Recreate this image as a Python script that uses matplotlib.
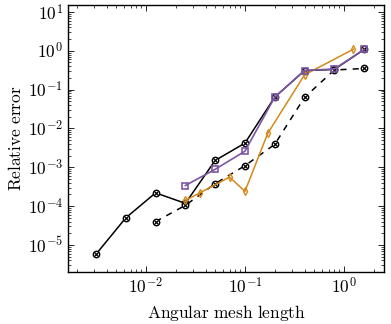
import matplotlib
matplotlib.use('Agg')
import matplotlib.pyplot as plt

plt.rcParams['mathtext.fontset'] = 'cm'
plt.rcParams['font.family'] = 'serif'
plt.rcParams['font.serif'] = ['DejaVu Serif']

PURPLE = '#7d56a3'
ORANGE = '#d4891c'

# black solid, circles with a cross
h_solid = [0.003125, 0.00625, 0.0125, 0.025, 0.05, 0.1, 0.2, 0.4, 0.8, 1.6]
err_solid = [5.8e-6, 5.0e-5, 2.2e-4, 1.18e-4, 1.5e-3, 4.2e-3, 0.064, 0.31, 0.33, 1.08]

# black dashed, circles with a cross
h_dash = [0.0125, 0.025, 0.05, 0.1, 0.2, 0.4, 0.8, 1.6]
err_dash = [4.0e-5, 1.05e-4, 3.8e-4, 1.1e-3, 3.9e-3, 0.063, 0.32, 0.35]

# purple squares
h_purple = [0.025, 0.05, 0.1, 0.2, 0.4, 0.8, 1.6]
err_purple = [3.4e-4, 8.9e-4, 2.6e-3, 0.064, 0.31, 0.34, 1.08]

# orange diamonds
h_orange = [0.025, 0.035, 0.07, 0.1, 0.17, 0.4, 1.25]
err_orange = [1.4e-4, 2.2e-4, 5.6e-4, 2.4e-4, 7.5e-3, 0.24, 1.1]

x_ticks = [1e-2, 1e-1, 1e0]
x_labels = [r'$10^{-2}$', r'$10^{-1}$', r'$10^{0}$']
y_ticks = [1e-5, 1e-4, 1e-3, 1e-2, 1e-1, 1e0, 1e1]
y_labels = [r'$10^{-5}$', r'$10^{-4}$', r'$10^{-3}$', r'$10^{-2}$',
            r'$10^{-1}$', r'$10^{0}$', r'$10^{1}$']


def otimes(x, y, ls):
    plt.plot(x, y, color='black', ls=ls, lw=1.1, marker='o', ms=4.6,
             mfc='white', mec='black', mew=1.0, zorder=3)
    plt.plot(x, y, ls='none', marker='x', ms=2.6, mec='black', mew=0.9, zorder=3)


fig = plt.figure(figsize=(3.91, 3.24), dpi=100)
ax = fig.add_axes([0.174, 0.160, 0.808, 0.825])

otimes(h_solid, err_solid, '-')
otimes(h_dash, err_dash, (0, (4, 4)))
plt.plot(h_orange, err_orange, color=ORANGE, lw=1.1, marker='d', ms=4,
         mfc='none', mec=ORANGE, mew=1.0, zorder=4)
plt.plot(h_purple, err_purple, color=PURPLE, lw=1.2, marker='s', ms=5,
         mfc='none', mec=PURPLE, mew=1.2, zorder=5)

ax.set_xscale('log')
ax.set_yscale('log')
ax.set_xlim(1.63e-3, 2.54)
ax.set_ylim(2.0e-6, 15.2)
ax.set_xticks(x_ticks, x_labels)
ax.set_yticks(y_ticks, y_labels)
ax.tick_params(which='both', direction='in', top=True, right=True, labelsize=12.5)
ax.tick_params(which='major', length=4, width=0.6)
ax.tick_params(which='minor', length=2.2, width=0.5)
for s in ax.spines.values():
    s.set_linewidth(1.0)

plt.xlabel(r'$\mathrm{Angular\ mesh\ length}$', fontsize=12.5, labelpad=4)
plt.ylabel(r'$\mathrm{Relative\ error}$', fontsize=12.5, labelpad=2)

plt.savefig('out.png', dpi=100)
